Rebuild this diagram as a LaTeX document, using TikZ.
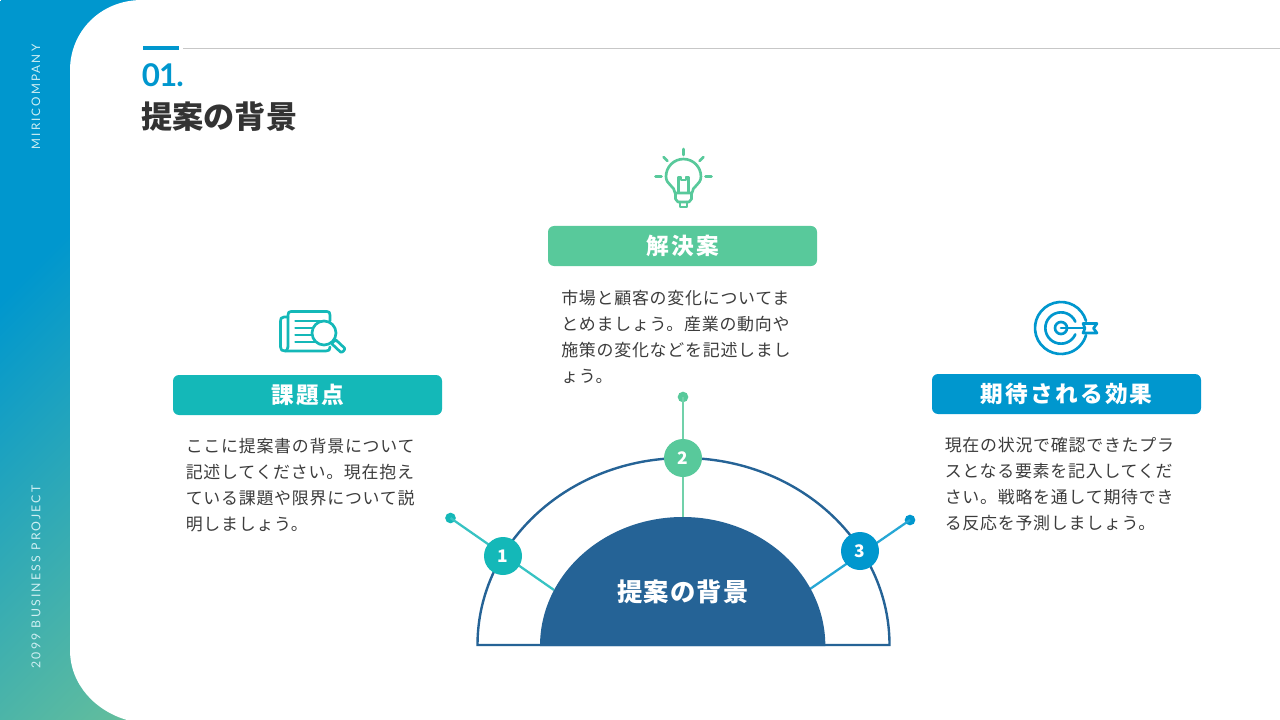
\documentclass[tikz,border=0pt]{standalone}
\usepackage{fontspec}
\setmainfont{Noto Sans CJK JP}
\newfontfamily\bodyjp[LetterSpace=4.5]{Noto Sans CJK JP}
\newfontfamily\btnjp[LetterSpace=10]{Noto Sans CJK JP}
\newfontfamily\corejp[LetterSpace=4]{Noto Sans CJK JP}
\newfontfamily\latinhead[LetterSpace=-3]{Lato}
\newfontfamily\sidefont[LetterSpace=18]{Lato}
\definecolor{cblue}{HTML}{0097CE}
\definecolor{cteal}{HTML}{14B8B8}
\definecolor{cgreen}{HTML}{58C99B}
\definecolor{cnavy}{HTML}{256396}
\definecolor{ctext}{HTML}{3C3C3C}
\definecolor{chead}{HTML}{333333}
\definecolor{cside}{HTML}{CFEFF3}
\definecolor{gradend}{HTML}{62BD9D}
\pgfdeclareverticalshading{sidegrad}{100bp}{color(0bp)=(cblue); color(26.5bp)=(cblue); color(74bp)=(gradend); color(100bp)=(gradend)}
\tikzset{
 btn/.style={rounded corners=4.5pt,minimum width=201.75pt,minimum height=30pt,inner sep=0pt,text=white,font=\btnjp\bfseries\fontsize{17}{19}\selectfont},
 bodytext/.style={anchor=north west,inner sep=0pt,align=left,text=ctext,font=\bodyjp\fontsize{12.7}{19.5}\selectfont},
 numdot/.style={circle,minimum size=28.5pt,inner sep=0pt,text=white,font=\bfseries\fontsize{13}{14}\selectfont},
 enddot/.style={circle,minimum size=8pt,inner sep=0pt},
 conn/.style={line width=1.7pt},
 sidetext/.style={rotate=90,text=cside,inner sep=0pt,font=\sidefont\fontsize{9.2}{11}\selectfont},
 icon/.style={line width=2pt,line cap=round,line join=round,fill=none}
}
\begin{document}
\begin{tikzpicture}[x=0.75pt,y=-0.75pt]
\useasboundingbox (0,0) rectangle (1280,720);
% backdrop
\fill[white] (0,0) rectangle (1280,720);
\begin{scope}
\clip (0,0) rectangle (182,720);
\node[rotate=-135,scale=5.98,inner sep=0pt] (grad) at (106,460) {\pgfuseshading{sidegrad}};
\end{scope}
\fill[white] (70,650) .. controls (70,685) and (96,711) .. (127,720) -- (190,720) -- (190,0) -- (142,0) .. controls (100,0) and (70,32) .. (70,70) -- cycle;
% side labels
\node[sidetext,font=\sidefont\fontsize{8.8}{11}\selectfont] (brand) at (36,97) {MIRICOMPANY};
\node[sidetext] (proj) at (36,577) {2099 BUSINESS PROJECT};
% header
\fill[cblue] (143,46) rectangle (179,50);
\draw[black!22,line width=0.75pt] (183,48.5) -- (1280,48.5);
\node[anchor=west,inner sep=0pt,text=cblue,font=\latinhead\bfseries\fontsize{23.5}{26}\selectfont] (num) at (141.5,75.5) {01.};
\node[anchor=west,inner sep=0pt,text=chead,font=\bfseries\fontsize{23.4}{26}\selectfont] (title) at (141,117) {提案の背景};
% semicircles
\draw[cnavy,line width=1.8pt,fill=white,line join=miter] (477.5,645) arc[start angle=180,end angle=0,x radius=154.5pt,y radius=140.25pt] -- cycle;
\coordinate (c1) at (554,590);
\coordinate (c2) at (683,518);
\coordinate (c3) at (810,589);
% connector ends and number circles
\node[enddot,fill=cteal] (e1) at (450.5,518) {};
\node[enddot,fill=cgreen] (e2) at (683,397) {};
\node[enddot,fill=cblue] (e3) at (910,520) {};
\draw[conn,cteal!85!white] (e1.center) -- (c1);
\draw[conn,cgreen!85!white] (e2.center) -- (c2);
\draw[conn,cblue!85!white] (e3.center) -- (c3);
\node[numdot,fill=cteal] (n1) at (503,556) {1};
\node[numdot,fill=cgreen] (n2) at (683,458) {2};
\node[numdot,fill=cblue] (n3) at (860,551) {3};
% inner semicircle
\fill[cnavy] (540,646) arc[start angle=180,end angle=0,x radius=107pt,y radius=96.75pt] -- cycle;
\node[text=white,inner sep=0pt,font=\corejp\bfseries\fontsize{19}{20}\selectfont] (core) at (683,592) {提案の背景};
% buttons
\node[btn,fill=cteal] (b1) at (307.5,395) {課題点};
\node[btn,fill=cgreen] (b2) at (682.5,246) {解決案};
\node[btn,fill=cblue] (b3) at (1066.5,394) {期待される効果};
% body texts
\node[bodytext] (t1) at (185.5,438) {ここに提案書の背景について\\記述してください。現在抱え\\ている課題や限界について説\\明しましょう。};
\node[bodytext] (t2) at (561,290) {市場と顧客の変化についてま\\とめましょう。産業の動向や\\施策の変化などを記述しまし\\ょう。};
\node[bodytext] (t3) at (944.5,437) {現在の状況で確認できたプラ\\スとなる要素を記入してくだ\\さい。戦略を通して期待でき\\る反応を予測しましょう。};
% bulb icon
\begin{scope}[icon,draw=cgreen]
\draw (683.5,149) -- (683.5,155);
\draw (663.5,157) -- (667.5,161);
\draw (703.5,157) -- (699.5,161);
\draw (655.5,176.5) -- (661.5,176.5);
\draw (705.5,176.5) -- (711.5,176.5);
\draw (675,193) .. controls (675,186) and (666,185) .. (666,176.5) arc[start angle=180,end angle=0,radius=13.1pt] .. controls (701,185) and (692,186) .. (692,193) -- cycle;
\draw (678.5,192) -- (678.5,177) -- (681,177) -- (681,180) -- (686,180) -- (686,177) -- (688.5,177) -- (688.5,192);
\draw (675.5,193) -- (675.5,199) -- (678,202) -- (689,202) -- (691.5,199) -- (691.5,193);
\draw (680,202) -- (680,207) -- (687,207) -- (687,202);
\end{scope}
% newspaper icon
\begin{scope}[icon,draw=cteal]
\draw (288,317) -- (284,317) .. controls (281,317) and (280.5,319) .. (280.5,321) -- (280.5,347) .. controls (280.5,350) and (282,351) .. (285,351) -- (326,351) .. controls (329,351) and (330,350) .. (330,347);
\draw (288,347) -- (288,315) .. controls (288,312.5) and (289,311.5) .. (291,311.5) -- (327,311.5) .. controls (329,311.5) and (330,312.5) .. (330,315) -- (330,321);
\draw (288,347) .. controls (288,350) and (286,351) .. (285,351);
\draw (295.5,321) -- (320,321);
\draw (295.5,328) -- (312,328);
\draw (295.5,335) -- (311,335);
\draw (295.5,342) -- (316,342);
\fill[white] (324,333) circle[radius=9pt];
\draw (324,333) circle[radius=9pt];
\draw (333,342) -- (336,340) -- (344.5,348) .. controls (345.5,350) and (342,353) .. (340.5,352) -- (332,344) -- cycle;
\end{scope}
% target icon
\begin{scope}[icon,draw=cblue]
\draw (1061,328) ++(16:19.5pt) arc[start angle=16,end angle=344,radius=19.5pt];
\draw (1061,328) ++(24:11.75pt) arc[start angle=24,end angle=336,radius=11.75pt];
\draw (1061,328) circle[radius=4.5pt];
\draw (1061,328) -- (1084,328);
\draw (1083,323.5) -- (1097,323.5) -- (1093.5,328.3) -- (1097,333) -- (1083,333) -- (1085,328.3) -- cycle;
\end{scope}
\end{tikzpicture}
\end{document}
